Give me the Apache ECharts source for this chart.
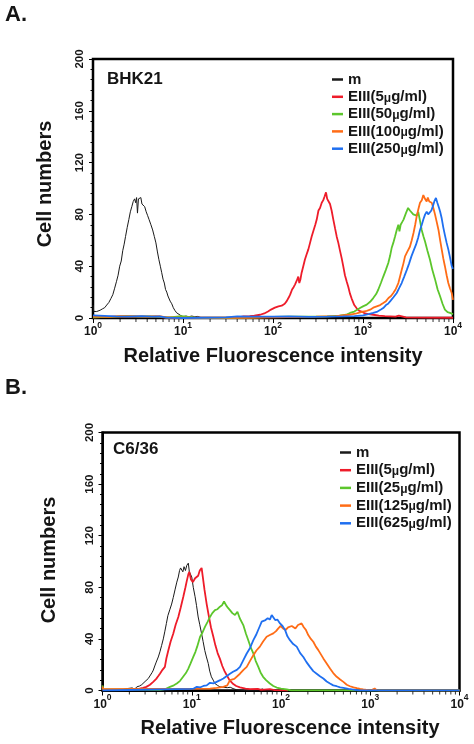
<!DOCTYPE html>
<html>
<head>
<meta charset="utf-8">
<script src="https://cdn.jsdelivr.net/npm/echarts@6/dist/echarts.min.js"></script>
<style>html,body{margin:0;padding:0;background:#fff;}#c{width:474px;height:744px;}</style>
</head>
<body>
<div id="c"></div>
<script>
// ---------- DATA ----------
const namesA = ['m', 'EIII(5μg/ml)', 'EIII(50μg/ml)', 'EIII(100μg/ml)', 'EIII(250μg/ml)'];
const namesB = ['m', 'EIII(5μg/ml)', 'EIII(25μg/ml)', 'EIII(125μg/ml)', 'EIII(625μg/ml)'];
const xTickExponents = [0, 1, 2, 3, 4];
const yTicks = [0, 40, 80, 120, 160, 200];

const A_m = [[1.0,10],[1.02,5],[1.06,4],[1.1,5],[1.15,4.5],[1.2,6],[1.27,7],[1.35,8],[1.42,10],[1.5,12],[1.58,15],[1.66,18],[1.74,23],[1.82,28],[1.9,33],[1.98,40],[2.06,44],[2.14,52],[2.22,57],[2.3,63],[2.4,70],[2.5,76],[2.6,82],[2.7,86],[2.8,90],[2.9,92],[2.98,89],[3.05,93],[3.12,81],[3.2,92],[3.3,91],[3.4,93],[3.5,88],[3.62,89],[3.75,86],[3.9,82],[4.05,79],[4.2,76],[4.4,72],[4.6,68],[4.8,63],[5.0,58],[5.2,51],[5.4,45],[5.6,40],[5.8,35],[6.0,30],[6.2,27],[6.4,22],[6.6,20],[6.8,17],[7.0,17],[7.2,13],[7.5,11],[7.8,8],[8.1,6],[8.5,4],[8.9,3],[9.4,2],[10,1],[10.8,1.5],[11.6,1],[12.5,1.5],[13.5,1],[14.5,1.2],[15.5,0.5],[17,0]];
const A_red = [[1,0.5],[1.8,1],[2.5,1.2],[3.5,1],[5,1],[6,0.5],[8,0],[20,0],[40,0.3],[47,1.3],[55,1.5],[62,1.8],[72,2.5],[80,3.5],[88,5],[95,6.5],[105,8],[115,9],[125,9.5],[135,11],[142,13],[150,16],[155,18],[163,22],[170,24],[176,26],[184,29],[191,32],[196,27],[202,30],[208,35],[217,40],[226,45],[236,49],[247,53],[258,58],[269,63],[283,68],[295,72],[306,76],[320,83],[333,85],[348,89],[362,91],[375,94],[388,97],[400,92],[415,90],[430,88],[448,83],[468,76],[490,69],[510,63],[532,58],[555,52],[580,46],[603,40],[630,33],[660,28],[687,24],[715,19],[748,15],[800,10],[851,7.5],[910,5.5],[968,5],[1050,3.5],[1150,3],[1300,2.5],[1500,1.8],[1750,1.5],[2000,1.3],[2300,1],[2500,1.8],[2600,0.8],[3000,0.5],[5000,0.3],[10000,0.2]];
const A_green = [[1,0.5],[1.8,1],[2.4,1.5],[3.2,1],[4.2,1.2],[5.5,0.8],[7,0.3],[9.5,1.5],[11,1],[14,0.2],[30,0],[60,0.3],[100,0.8],[150,1],[250,1],[400,1.2],[550,1.8],[650,2.5],[717,3.9],[800,5],[870,6.5],[926,7.7],[1000,9],[1100,10.3],[1200,12.5],[1300,15.4],[1400,18.5],[1480,22],[1580,27],[1680,32],[1790,37],[1910,42.5],[2000,48],[2080,54],[2170,58],[2270,63],[2370,68],[2470,72],[2540,67],[2620,72],[2720,74],[2820,76],[3000,81],[3170,85],[3320,83],[3460,82],[3620,80],[3780,81],[3950,79],[4110,82],[4300,75],[4490,68],[4700,63],[4890,59],[5200,52],[5550,45],[5900,37],[6310,30],[6750,22],[7170,17],[7650,11],[8130,6.5],[8700,4.5],[9260,3.9],[10000,3]];
const A_orange = [[1,1],[1.5,0.8],[2,1.5],[3,1.2],[4,1],[5.5,1.5],[6.5,0.5],[10,0.3],[50,0.2],[100,0.5],[200,0.8],[300,1],[500,1.5],[700,2.5],[850,3.5],[1000,5],[1100,5.5],[1200,6.4],[1300,8],[1420,9],[1550,10],[1680,11.6],[1800,13],[1920,15.4],[2050,17],[2170,19.3],[2300,22],[2470,27],[2580,32],[2690,37],[2810,42],[2930,47.6],[3100,51],[3320,55],[3480,60],[3640,65.6],[3800,72],[3950,78.5],[4120,84],[4300,89],[4500,91],[4680,95],[4880,92],[5100,90],[5250,93],[5450,90],[5600,91],[5800,89],[6050,85],[6310,80],[6600,74],[6900,68],[7200,60],[7490,53],[7800,46],[8130,40],[8500,33],[8870,27],[9250,23],[9680,19.3],[10000,14]];
const A_blue = [[1,2],[1.03,0.5],[1.8,1.2],[2.5,1],[3.5,1.5],[4.5,1],[5.5,1.3],[6.5,0.3],[10,0],[30,0.5],[40,1.2],[60,1],[100,1],[150,1.2],[250,0.8],[400,1],[600,1.2],[800,1.5],[1000,2],[1150,3],[1300,3.9],[1450,5],[1580,6.5],[1680,7.7],[1800,10],[1900,11],[2000,12.8],[2180,16],[2370,19.3],[2520,23],[2690,27],[2870,32],[3060,37],[3250,42],[3450,47.6],[3650,52],[3880,56.6],[4100,62],[4300,68],[4500,72],[4680,76],[4900,80],[5100,82],[5300,80],[5500,81],[5750,83],[5950,86],[6200,90],[6460,92.7],[6700,89],[7000,85],[7200,82],[7490,77],[7800,70],[8130,64],[8500,58],[8870,53],[9250,47],[9680,40],[10000,38]];

const B_m = [[1,0],[1.5,0],[1.9,1.5],[2.0,0.5],[2.15,2],[2.3,1],[2.42,2.8],[2.6,3.5],[2.75,4.5],[2.87,5.4],[3.0,7],[3.1,8],[3.26,9.3],[3.45,12],[3.6,14],[3.71,15.8],[3.85,19],[4.0,22],[4.22,26],[4.4,30],[4.6,35],[4.8,40],[5.0,46],[5.2,52],[5.4,58],[5.7,63],[5.95,67],[6.2,72],[6.49,78],[6.8,84],[7.07,88],[7.3,93],[7.5,95],[7.71,95],[7.95,92],[8.2,96],[8.5,93],[8.8,97],[9.15,98.7],[9.4,92],[9.7,91],[10,88],[10.4,80],[10.9,72.7],[11.3,66],[11.8,57],[12.3,51],[12.9,44],[13.4,38],[14,31],[14.6,26],[15.3,21],[15.9,15],[16.6,10.6],[17.4,8],[18.2,5.4],[19.4,4],[20.7,2.8],[22.5,2.5],[25,2.2],[27,2.5],[29,1.5],[32,0.5],[40,0],[55,0.3],[62,1.2],[66,0.3],[80,0]];
const B_red = [[1,0.5],[1.5,0.3],[2,0.5],[2.3,1],[2.6,1.5],[2.85,2],[3.1,2.8],[3.4,4.5],[3.7,6.7],[4.0,9],[4.2,11],[4.4,13],[4.7,16],[5.0,18.3],[5.2,25],[5.46,31],[5.8,38],[6.2,44],[6.6,51],[7.07,57],[7.5,64],[8.04,72.7],[8.5,80],[8.8,85],[9.15,90],[9.4,92],[9.8,86],[10.3,84],[10.9,87],[11.3,86],[11.8,89],[12.3,93],[12.9,95],[13.3,88],[13.9,78],[14.7,67],[15.5,58],[16.4,49],[17.4,42],[18.4,35],[19.5,29],[20.7,24.5],[22,19],[23.3,15],[24.6,12],[26.5,8],[29.2,5],[31.5,3.5],[34.7,2.5],[40,1.5],[45,1],[55,1.2],[60,0.5],[75,1],[85,0.3],[120,0]];
const B_green = [[1,4],[1.02,1],[1.05,0],[4.4,0.5],[5,1],[5.7,2.8],[6.3,4],[6.8,5.4],[7.4,7.5],[8.0,10.6],[8.6,13.5],[9.15,17],[9.7,21],[10.4,26],[11,30],[11.5,34],[12.4,41.7],[13.2,45],[14.1,49.5],[15,53],[16,57],[17,60],[18.2,62.3],[19.4,63],[20.7,65],[21.8,66],[23,69],[24.3,66],[25.5,64],[26.8,62.3],[28.5,60],[30.5,58.5],[32.5,61],[34.5,56],[37.8,50.7],[40.5,44],[43,39],[46,33],[49,28.7],[52,23],[55.7,18.3],[59,14],[63,10.6],[68,8],[75,5.4],[82,3.5],[89.5,2.3],[100,1.5],[116,0.8],[130,0],[10000,0]];
const B_orange = [[1,3],[1.02,1],[1.05,0],[16,1.5],[19,2],[22.6,2.8],[25,4],[26.8,8],[30,9],[34.7,13],[38,16],[41.3,18.3],[45,23],[49,27.4],[53,31],[58,34],[63,38],[69,41.7],[75,43],[82,44.3],[88,46],[93.3,48.2],[99,50],[106,48],[113,47],[120,49],[132,50],[145,48],[155,50.8],[163,51],[170,52],[180,49],[190,47],[202,43],[216,40],[230,37.8],[246,34],[262,31.3],[280,28],[298,24.9],[325,21],[354,17],[385,13.5],[421,10.6],[460,8.5],[500,6.7],[545,4.5],[593,3.3],[650,2.5],[707,1.8],[770,1.2],[835,0.8],[950,0.3],[1050,0.5],[1120,1.5],[1180,0.3],[1300,0],[10000,0]];
const B_blue = [[1,0],[9.6,1.3],[10.5,1.5],[11.4,2.8],[12.5,2.5],[13.5,3.5],[14.7,4],[16,6],[17.5,5.5],[19,6.7],[20.8,8],[22.6,9.3],[24.5,11],[26.8,13],[29,14.5],[32,16],[34.7,18.3],[37.5,23],[41.3,28.7],[45,33],[49,39],[52.5,43],[55.5,46.9],[58,50],[60.8,53.4],[64,52],[67,54.6],[71,56],[75,55],[78.7,58.5],[82,57],[86,54.6],[91,55],[97.5,52],[104,50],[111,47],[118,42],[126,39],[137,36],[150,34],[164,29],[178,26],[193,22],[211,18.3],[230,15],[251,13],[273,11],[298,9.3],[325,7],[354,5.4],[385,4],[421,3.3],[460,2.5],[500,2],[570,1.2],[646,0.7],[750,0],[10000,0]];

// ---------- STYLE ----------
const FONT = "'Liberation Sans', Arial, Helvetica, sans-serif";
const INK = '#151515';
const COLORS = ['#1a1a1a', '#ee1c2a', '#5cc62c', '#ff6c16', '#1f6ff0'];
const WIDTHS = [1, 1.8, 1.8, 1.8, 1.8];

// minor log tick positions 2..9 x 10^k
const minorLogTicks = [];
for (let k = 0; k < 4; k++) for (let m = 2; m <= 9; m++) minorLogTicks.push([m * Math.pow(10, k), 0]);

const grids = [
  {left: 93, top: 59, width: 360, height: 259},
  {left: 102.5, top: 432.5, width: 357, height: 258}
];

function xAxis(i) {
  return {
    type: 'log', logBase: 10, min: 1, max: 10000, gridIndex: i,
    axisLine: {show: true, lineStyle: {color: '#000', width: 2}},
    axisTick: {show: true, length: 5, lineStyle: {color: '#000', width: 1}},
    splitLine: {show: false},
    axisLabel: {
      margin: 3, color: INK,
      formatter: v => '{b|10}{s|' + Math.round(Math.log10(v)) + '}',
      rich: {
        b: {fontFamily: FONT, fontWeight: 'bold', fontSize: 12, color: INK, verticalAlign: 'bottom', lineHeight: 17},
        s: {fontFamily: FONT, fontWeight: 'bold', fontSize: 8.5, color: INK, verticalAlign: 'top', lineHeight: 17}
      }
    }
  };
}
function yAxis(i) {
  return {
    type: 'value', min: yTicks[0], max: yTicks[yTicks.length - 1], interval: 40, gridIndex: i,
    axisLine: {show: true, lineStyle: {color: '#000', width: 2}},
    axisTick: {show: true, length: 4, lineStyle: {color: '#000', width: 1}},
    minorTick: {show: true, splitNumber: 5, length: 2.5, lineStyle: {color: '#000', width: 1}},
    splitLine: {show: false},
    axisLabel: {rotate: 90, margin: 7, fontFamily: FONT, fontWeight: 'bold', fontSize: 11.5, color: INK}
  };
}

function mkSeries(names, datas, gi) {
  return datas.map((d, k) => ({
    type: 'line', name: names[k], xAxisIndex: gi, yAxisIndex: gi,
    data: d, showSymbol: false, symbol: 'none',
    lineStyle: {color: COLORS[k], width: WIDTHS[k]},
    itemStyle: {color: COLORS[k]},
    emphasis: {disabled: true}, animation: false, z: 2 + k
  }));
}

const legendRich = {mu: {fontFamily: FONT, fontWeight: 'bold', fontSize: 12, color: INK, verticalAlign: 'bottom', lineHeight: 12, padding: [4, 0, 0, 0]}};
function legend(names, left, top, gap) {
  return {
    orient: 'vertical', left: left, top: top, padding: 0, itemWidth: 11, itemHeight: 2.5, itemGap: gap,
    icon: 'rect', selectedMode: false,
    data: names.map((n, k) => ({name: n, itemStyle: {color: COLORS[k]}})),
    formatter: n => n.replace('μ', '{mu|μ}'),
    textStyle: {fontFamily: FONT, fontWeight: 'bold', fontSize: 15, color: INK, lineHeight: 15, rich: legendRich}
  };
}

function txt(text, x, y, size, rot, align) {
  return {type: 'text', x: x, y: y, rotation: rot || 0, silent: true,
    style: {text: text, fontFamily: FONT, fontWeight: 'bold', fontSize: size, fill: INK,
      align: align || 'center', verticalAlign: 'middle'}};
}

const option = {
  animation: false,
  backgroundColor: '#fff',
  grid: grids.map(g => Object.assign({show: true, borderColor: '#000', borderWidth: 2.5, backgroundColor: 'transparent'}, g)),
  xAxis: [xAxis(0), xAxis(1)],
  yAxis: [yAxis(0), yAxis(1)],
  legend: [legend(namesA, 332, 72, 1.3), legend(namesB, 340, 445, 1.7)],
  series: [
    ...mkSeries(namesA, [A_m, A_red, A_green, A_orange, A_blue], 0),
    ...mkSeries(namesB, [B_m, B_red, B_green, B_orange, B_blue], 1),
    ...[0, 1].map(gi => ({type: 'scatter', xAxisIndex: gi, yAxisIndex: gi, data: minorLogTicks,
      symbol: 'rect', symbolSize: [1, 3], symbolOffset: [0, 2.5], itemStyle: {color: '#000'},
      silent: true, clip: false, z: 10}))
  ],
  graphic: [
    txt('A.', 5, 15, 22, 0, 'left'),
    txt('B.', 5, 388, 22, 0, 'left'),
    txt('BHK21', 107, 79, 17, 0, 'left'),
    txt('C6/36', 113, 449, 17, 0, 'left'),
    txt('Cell numbers', 45, 184, 20, Math.PI / 2),
    txt('Cell numbers', 49, 560, 20, Math.PI / 2),
    txt('Relative Fluorescence intensity', 273, 356, 20),
    txt('Relative Fluorescence intensity', 290, 728, 20)
  ]
};

const chart = echarts.init(document.getElementById('c'), null, {renderer: 'canvas'});
chart.setOption(option);
</script>
</body>
</html>
